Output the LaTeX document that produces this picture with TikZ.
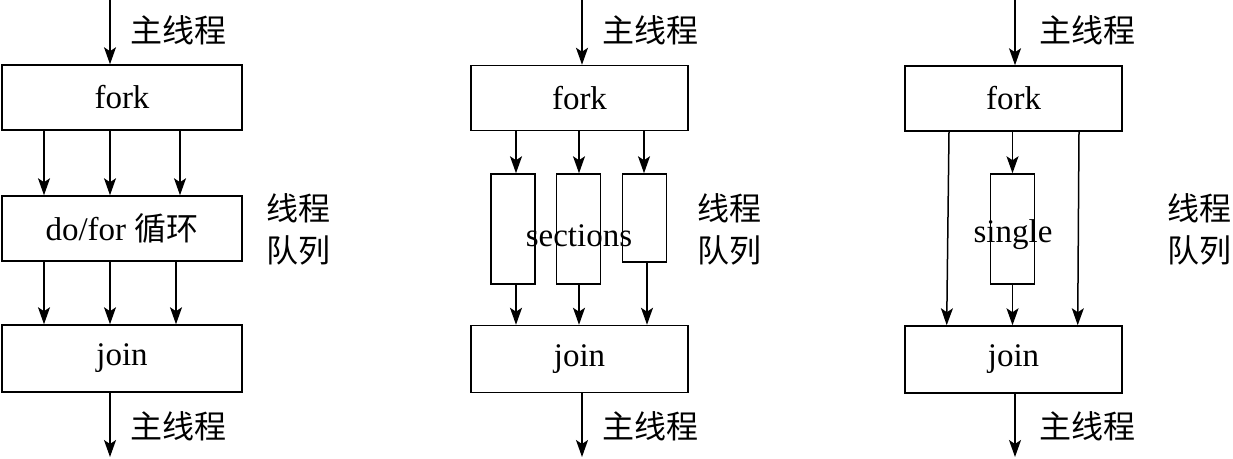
\documentclass[tikz,border=0pt]{standalone}
\usepackage{fontspec}
\setmainfont{Liberation Serif}
\newfontfamily\cjk{Noto Sans CJK SC}
\usetikzlibrary{arrows.meta}
\begin{document}
\begin{tikzpicture}[x=1pt,y=-1pt,
  every node/.style={font=\fontsize{33}{42}\selectfont, inner sep=0pt},
  bigbox/.style={draw, line width=1.5pt, minimum width=240pt, minimum height=65pt},
  midbox/.style={draw, line width=1.5pt, minimum width=217pt, minimum height=65pt},
  slim/.style={draw, line width=1.5pt, minimum width=44pt},
  arr/.style={line width=1.5pt, -{Stealth[length=17pt,width=12pt,inset=4pt]}},
  lab/.style={anchor=west, font=\fontsize{32}{42}\selectfont\cjk},
  qlab/.style={anchor=west, align=left, font=\fontsize{32}{42}\selectfont\cjk}]
\useasboundingbox (0,0) rectangle (1233,458);

% ---------- panel 1 ----------
\node[bigbox] (fork1) at (122,97.5) {fork};
\node[bigbox] (loop1) at (122,228.5) {do/for {\fontsize{32}{42}\selectfont\cjk 循环}};
\node[bigbox, minimum height=67pt] (join1) at (122,358.5) {join};
\coordinate (in1) at (110,0);
\coordinate (out1) at (110,457);
\draw[arr] (in1) -- (in1 |- fork1.north);
\draw[arr] (110,0 |- join1.south) -- (out1);
\foreach \x in {44,110,180} \draw[arr] (\x,0 |- fork1.south) -- (\x,0 |- loop1.north);
\foreach \x in {44,110,176} \draw[arr] (\x,0 |- loop1.south) -- (\x,0 |- join1.north);
\node[lab] (m1a) at (130,30) {主线程};
\node[lab] (m1b) at (130,426) {主线程};
\node[qlab] (q1) at (266,229) {线程\\队列};

% ---------- panel 2 ----------
\node[midbox] (fork2) at (579.5,98) {fork};
\node[slim, minimum height=110pt] (s1) at (513,229) {};
\node[slim, minimum height=110pt] (s2) at (578.5,229) {};
\node[slim, minimum height=88pt] (s3) at (644.5,218) {};
\node[midbox, minimum height=67pt] (join2) at (579.5,359) {join};
\node (sec) at (579,236) {sections};
\coordinate (in2) at (582,0);
\coordinate (out2) at (582,457);
\draw[arr] (in2) -- (in2 |- fork2.north);
\draw[arr] (582,0 |- join2.south) -- (out2);
\draw[arr] (516,0 |- fork2.south) -- (516,0 |- s1.north);
\draw[arr] (579,0 |- fork2.south) -- (579,0 |- s2.north);
\draw[arr] (644,0 |- fork2.south) -- (644,0 |- s3.north);
\draw[arr] (516,0 |- s1.south) -- (516,0 |- join2.north);
\draw[arr] (579,0 |- s2.south) -- (579,0 |- join2.north);
\draw[arr] (647,0 |- s3.south) -- (647,0 |- join2.north);
\node[lab] (m2a) at (602,30) {主线程};
\node[lab] (m2b) at (602,426) {主线程};
\node[qlab] (q2) at (697,229) {线程\\队列};

% ---------- panel 3 ----------
\node[midbox] (fork3) at (1013.5,98.5) {fork};
\node[slim, minimum height=110pt] (sg) at (1012.5,229) {};
\node[midbox, minimum height=67pt] (join3) at (1013.5,359.5) {join};
\node (sgl) at (1013,235) {single};
\coordinate (in3) at (1015,0);
\coordinate (out3) at (1015,457);
\draw[arr] (in3) -- (in3 |- fork3.north);
\draw[arr] (1015,0 |- join3.south) -- (out3);
\draw[arr] (949,0 |- fork3.south) -- (946.7,0 |- join3.north);
\draw[arr] (1079,0 |- fork3.south) -- (1077.7,0 |- join3.north);
\draw[arr] (1012.5,0 |- fork3.south) -- (sg.north);
\draw[arr] (sg.south) -- (1012.5,0 |- join3.north);
\node[lab] (m3a) at (1039,30) {主线程};
\node[lab] (m3b) at (1039,426) {主线程};
\node[qlab] (q3) at (1167,229) {线程\\队列};
\end{tikzpicture}
\end{document}
